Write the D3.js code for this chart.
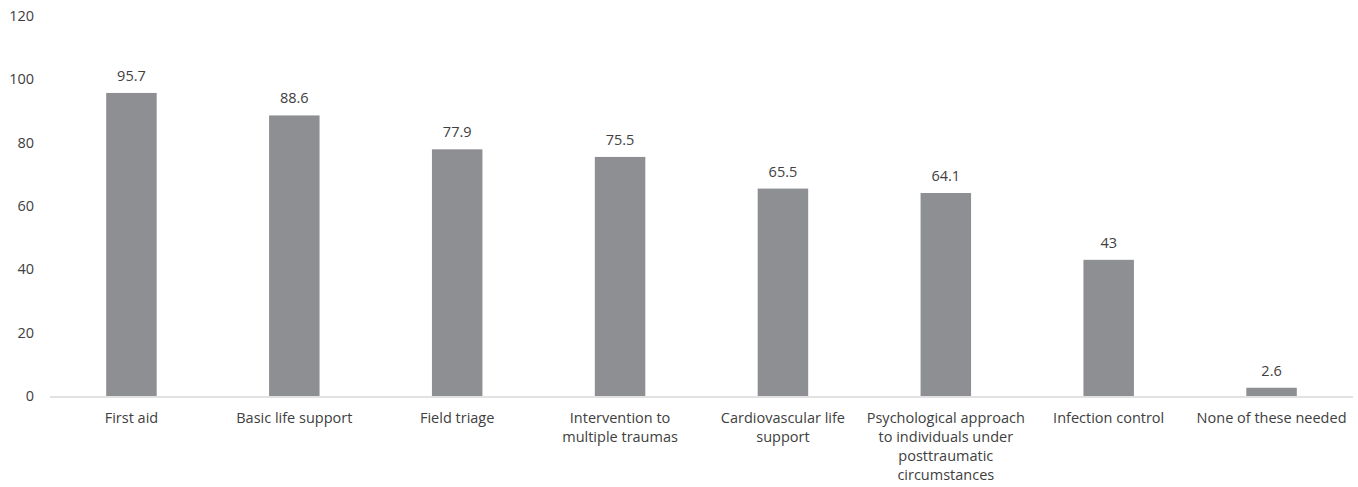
<!DOCTYPE html>
<html lang="en">
<head>
    <meta charset="UTF-8">
    <title>Training needs</title>
    <script src="https://d3js.org/d3.v7.min.js"></script>
    <style>
        body { margin: 0; background: #fff; }
        svg { display: block; font-family: "Open Sans", "Noto Sans", sans-serif; }
    </style>
</head>
<body>
<svg id="chart" width="1358" height="487"></svg>
<script>
    // categories, each split into the lines shown under the axis
    const categories = [
        ["First aid"],
        ["Basic life support"],
        ["Field triage"],
        ["Intervention to", "multiple traumas"],
        ["Cardiovascular life", "support"],
        ["Psychological approach", "to individuals under", "posttraumatic", "circumstances"],
        ["Infection control"],
        ["None of these needed"]
    ];
    const values = [95.7, 88.6, 77.9, 75.5, 65.5, 64.1, 43, 2.6];
    const yTicks = [0, 20, 40, 60, 80, 100, 120];

    const svg = d3.select("#chart");
    const plotLeft = 50, plotRight = 1353, plotTop = 16, plotBottom = 396;
    const fontSize = 14.5;

    const x = d3.scaleBand()
        .domain(d3.range(categories.length))
        .range([plotLeft, plotRight])
        .padding(0);
    const y = d3.scaleLinear().domain([0, 120]).range([plotBottom, plotTop]);

    const barW = x.bandwidth() * 0.31;
    const textColor = "#404040";

    // y tick labels (no axis line, no grid)
    svg.append("g").selectAll("text")
        .data(yTicks)
        .join("text")
        .attr("x", 34)
        .attr("y", d => y(d))
        .attr("dy", "0.35em")
        .attr("text-anchor", "end")
        .attr("font-size", fontSize)
        .attr("fill", textColor)
        .text(d => d);

    // bars
    svg.append("g").selectAll("rect")
        .data(values)
        .join("rect")
        .attr("x", (d, i) => x(i) + x.bandwidth() / 2 - barW / 2)
        .attr("y", d => y(d))
        .attr("width", barW)
        .attr("height", d => y(0) - y(d))
        .attr("fill", "#8e8f93");

    // baseline
    svg.append("line")
        .attr("x1", plotLeft).attr("x2", plotRight)
        .attr("y1", y(0) + 1).attr("y2", y(0) + 1)
        .attr("stroke", "#d9d9d9")
        .attr("stroke-width", 1.5);

    // value labels
    svg.append("g").selectAll("text")
        .data(values)
        .join("text")
        .attr("x", (d, i) => x(i) + x.bandwidth() / 2)
        .attr("y", d => y(d) - 12)
        .attr("text-anchor", "middle")
        .attr("font-size", fontSize)
        .attr("fill", textColor)
        .text(d => d);

    // category labels
    const cat = svg.append("g").selectAll("text")
        .data(categories)
        .join("text")
        .attr("x", (d, i) => x(i) + x.bandwidth() / 2)
        .attr("y", y(0) + 27)
        .attr("text-anchor", "middle")
        .attr("font-size", fontSize)
        .attr("fill", textColor);
    cat.selectAll("tspan")
        .data(d => d)
        .join("tspan")
        .attr("x", function() { return d3.select(this.parentNode).attr("x"); })
        .attr("dy", (d, i) => i === 0 ? 0 : 19)
        .text(d => d);
</script>
</body>
</html>
